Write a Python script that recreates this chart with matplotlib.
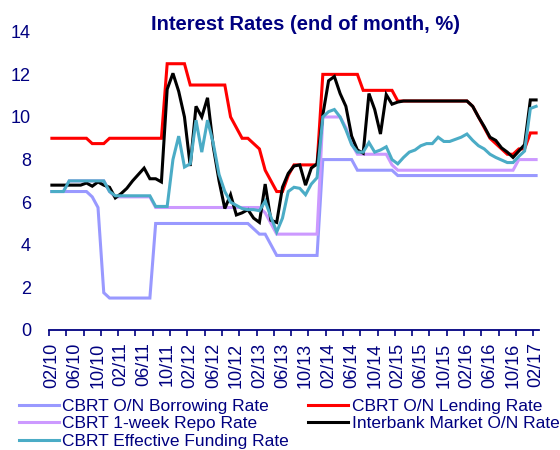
import matplotlib
matplotlib.use("Agg")
import matplotlib.pyplot as plt
import numpy as np

plt.rcParams['font.family'] = ['Liberation Sans', 'DejaVu Sans']

NAVY = '#000080'

# monthly, end of month, 02/2010 .. 02/2017
tick_labels = ["02/10", "06/10", "10/10", "02/11", "06/11", "10/11", "02/12",
               "06/12", "10/12", "02/13", "06/13", "10/13", "02/14", "06/14",
               "10/14", "02/15", "06/15", "10/15", "02/16", "06/16", "10/16",
               "02/17"]

borrowing = ([6.5] * 7 + [6.25, 5.75, 1.75] + [1.5] * 8 + [5.0] * 17
             + [4.75, 4.5, 4.5, 4.0] + [3.5] * 8 + [8.0] * 6 + [7.5] * 7
             + [7.25] * 25)

lending = ([9.0] * 7 + [8.75] * 3 + [9.0] * 10 + [12.5] * 4 + [11.5] * 7
           + [10.0, 9.5, 9.0, 9.0, 8.75, 8.5, 7.5, 7.0, 6.5, 6.5, 7.25]
           + [7.75] * 5 + [12.0] * 7 + [11.25] * 6 + [10.75] * 13
           + [10.5, 10.0, 9.5, 9.0, 8.75, 8.5, 8.25, 8.25, 8.5, 8.5, 9.25, 9.25])

repo = ([6.5] * 3 + [7.0] * 7 + [6.5] + [6.25] * 7 + [5.75] * 19
        + [5.5, 5.0] + [4.5] * 8 + [10.0] * 4 + [9.5, 8.75] + [8.25] * 6
        + [7.75] + [7.5] * 21 + [8.0] * 4)

interbank = ([6.8] * 6 + [6.9, 6.75, 6.95, 6.8, 6.7, 6.2, 6.4, 6.65, 7.0, 7.3,
             7.6, 7.1, 7.1, 6.95, 11.3, 12.05, 11.2, 10.0, 7.7, 10.5, 10.0,
             10.9, 8.6, 7.0, 5.7, 6.35, 5.4, 5.5, 5.65, 5.25, 5.05, 6.85,
             5.15, 5.05, 6.7, 7.35, 7.7, 7.75, 6.8, 7.6, 7.8, 10.1, 11.7,
             11.9, 11.1, 10.5, 9.1, 8.45, 8.3, 11.1, 10.35, 9.2, 11.05, 10.6,
             10.7] + [10.75] * 12
             + [10.5, 10.0, 9.55, 9.05, 8.9, 8.55, 8.35, 8.1, 8.4, 8.7, 10.8,
                10.8])

funding = ([6.5] * 3 + [7.0] * 7 + [6.5] + [6.3] * 7
           + [5.8, 5.8, 5.8, 8.0, 9.1, 7.65, 7.8, 9.85, 8.35, 9.85, 8.75, 7.3,
              6.5, 6.0, 5.85, 5.7, 5.65, 5.65, 5.6, 6.05, 5.3, 4.6, 5.25, 6.5,
              6.7, 6.65, 6.35, 6.85, 7.15, 10.0, 10.25, 10.35, 10.0, 9.4, 8.7,
              8.35, 8.35, 8.8, 8.35, 8.45, 8.6, 8.0, 7.8, 8.1, 8.35, 8.45,
              8.65, 8.75, 8.75, 9.05, 8.85, 8.85, 8.95, 9.05, 9.2, 8.9, 8.65,
              8.5, 8.25, 8.1, 7.98, 7.86, 7.86, 8.15, 8.4, 10.4, 10.5])

series = [
    ("CBRT O/N Borrowing Rate", borrowing, '#9999FF'),
    ("CBRT O/N Lending Rate", lending, '#FF0000'),
    ("CBRT 1-week Repo Rate", repo, '#CC99FF'),
    ("Interbank Market O/N Rate", interbank, '#000000'),
    ("CBRT Effective Funding Rate", funding, '#4BACC6'),
]

fig = plt.figure(figsize=(5.6, 4.5), dpi=100)
ax = fig.add_axes([0.0875, 0.2667, 0.875, 0.6627])

x = np.arange(len(borrowing))
lines = {}
for name, vals, col in series:
    lines[name], = ax.plot(x, vals, color=col, lw=2.2, label=name,
                           solid_joinstyle='miter')

ax.set_xlim(-0.5, len(x) - 0.5)
ax.set_ylim(0, 14)
ax.set_yticks(np.arange(0, 15, 2))
ax.tick_params(axis='y', length=0, pad=13, labelsize=13, labelcolor=NAVY)

ax.set_xticks(np.arange(0, len(x), 4))
ax.set_xticklabels(tick_labels, rotation=90)
ax.set_xticks(np.arange(-0.5, len(x), 3), minor=True)
ax.tick_params(axis='x', which='major', length=0, pad=9, labelsize=13,
               labelcolor=NAVY)
ax.tick_params(axis='x', which='minor', length=4, width=1.2, color=NAVY)

for s in ['top', 'right', 'left']:
    ax.spines[s].set_visible(False)
ax.spines['bottom'].set_color(NAVY)
ax.spines['bottom'].set_linewidth(1.3)

fig.text(0.545, 1 - 25 / 450, "Interest Rates (end of month, %)",
         ha='center', va='center', fontsize=14.5, fontweight='bold', color=NAVY)

# legend: two columns, filled column by column
order = ["CBRT O/N Borrowing Rate", "CBRT 1-week Repo Rate",
         "CBRT Effective Funding Rate", "CBRT O/N Lending Rate",
         "Interbank Market O/N Rate"]
fig.legend([lines[n] for n in order], order, ncol=2, frameon=False,
           loc='upper left', bbox_to_anchor=(0.034, 1 - 399 / 450),
           fontsize=12.5, borderpad=0, borderaxespad=0, handlelength=2.3,
           handletextpad=0.2, columnspacing=1.1, labelspacing=0.12,
           labelcolor=NAVY)

fig.savefig("out.png", dpi=100)
